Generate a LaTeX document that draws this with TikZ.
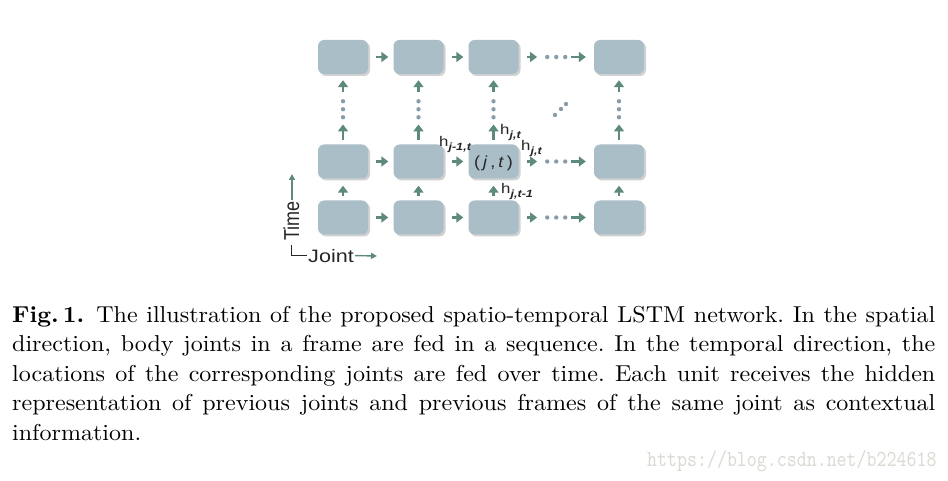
\documentclass[tikz,border=0pt]{standalone}
\usepackage{fontspec}
\usepackage{graphicx}
\usetikzlibrary{arrows.meta,calc,shadows}
\newfontfamily\diagfont{Liberation Sans}

\definecolor{unitfill}{RGB}{169,190,199}
\definecolor{linkcol}{RGB}{94,138,126}
\definecolor{dotcol}{RGB}{135,158,170}
\definecolor{markcol}{RGB}{218,218,212}

\newcommand\wide[2][1.2]{\scalebox{#1}[1]{#2}}
\newcommand\hsub[1]{h\raisebox{-3.5pt}{\fontsize{10.5}{10.5}\selectfont\bfseries\itshape #1}}

\tikzset{
    unit/.style={rectangle, rounded corners=6pt, fill=unitfill, minimum width=50pt,
        minimum height=34pt, inner sep=0pt,
        drop shadow={shadow xshift=2pt, shadow yshift=-2pt, fill=black, opacity=0.18}},
    link/.style={linkcol, line width=2.4pt, -{Triangle[length=7pt,width=10pt]}},
    hgap/.style={minimum width=22pt, minimum height=4pt, inner sep=0pt},
    vgap/.style={minimum width=4pt, minimum height=22pt, inner sep=0pt},
    lbl/.style={font=\diagfont\fontsize{14}{14}\selectfont, text=black!85, inner sep=0pt},
    axislbl/.style={font=\diagfont\fontsize{18}{18}\selectfont, text=black!85, inner sep=1pt},
    axisarrow/.style={linkcol, line width=1.4pt, -{Triangle[length=6pt,width=6pt]}},
}

\begin{document}
\begin{tikzpicture}[x=1pt,y=1pt]
    \useasboundingbox (0,0) rectangle (948,480);

    % The units
    \foreach \col/\x in {1/343,2/418.5,3/493.5,4/619}
    {
        \foreach \rw/\y in {1/262.5,2/318.5,3/423}
            \node[unit] (u\col\rw) at (\x,\y) {};
    }
    \node[lbl, font=\diagfont\fontsize{16}{16}\selectfont] (jt) at ($(u32)+(0,-2)$) {\wide[1.12]{(\,\textit{j}\,,\,\textit{t}\,)}};

    % Joint direction
    \foreach \rw in {1,2,3}
    {
        \draw[link, shorten <=8pt, shorten >=5pt] (u1\rw) -- (u2\rw);
        \draw[link, shorten <=8pt, shorten >=5pt] (u2\rw) -- (u3\rw);
        \node[hgap] (g\rw) at ($(u3\rw)!0.5!(u4\rw)$) {};
        \draw[link, shorten <=8.5pt, shorten >=8pt] (u3\rw) -- (g\rw);
        \draw[link, shorten <=4pt, shorten >=8pt] (g\rw) -- (u4\rw);
        \foreach \d in {-9,0,9}
            \fill[dotcol] ($(g\rw)+(\d,0)$) circle (2.2pt);
    }

    % Time direction
    \foreach \col in {1,...,4}
    {
        \draw[link, shorten <=4pt, shorten >=7pt] (u\col1) -- (u\col2);
        \node[vgap] (v\col) at ($(u\col2.north)!0.5!(u\col3.south)$) {};
        \draw[link, shorten <=4.5pt, shorten >=4pt] (u\col2) -- (v\col);
        \draw[link, shorten <=6pt, shorten >=6pt] (v\col) -- (u\col3);
        \foreach \d in {-8,0,8}
            \fill[dotcol] ($(v\col)+(0,\d)$) circle (2.2pt);
    }
    \foreach \p in {(555,365),(561,371),(566,376)}
        \fill[dotcol] \p circle (2.2pt);

    % Hidden states
    \node[lbl, anchor=base west] (hLeft) at (439,333) {\wide{\hsub{j-1,t}}};
    \node[lbl, anchor=base west] (hUp) at (500,345) {\wide{\hsub{j,t}}};
    \node[lbl, anchor=base west] (hRight) at (521,329) {\wide{\hsub{j,t}}};
    \node[lbl, anchor=base west] (hDown) at (501,286) {\wide{\hsub{j,t-1}}};

    % Axes legend
    \node[axislbl, anchor=base west, rotate=90] (time) at (299,238) {\scalebox{1}[1.2]{Time}};
    \node[axislbl, anchor=base west] (joint) at (307,218) {\wide[1.2]{Joint}};
    \coordinate (tEnd) at (292,306);
    \coordinate (jEnd) at (377,224);
    \draw[axisarrow] (tEnd |- time.east) -- (tEnd);
    \draw[axisarrow] (joint.east) -- (jEnd);
    \draw[black!85, line width=1pt, shorten <=3pt] (time.west) |- (joint.west);

    % Caption
    \node[anchor=base west, inner sep=0pt] (caption) at (12,158) {\scalebox{2.404}[2.3]{\parbox[t]{384pt}{\fontsize{10}{12.83}\selectfont\frenchspacing\hyphenpenalty=10000
        \textbf{Fig.\,1.}\enspace The illustration of the proposed spatio-temporal LSTM network. In the spatial\linebreak
        direction, body joints in a frame are fed in a sequence. In the temporal direction, the\linebreak
        locations of the corresponding joints are fed over time. Each unit receives the hidden\linebreak
        representation of previous joints and previous frames of the same joint as contextual\linebreak
        information.}}};

    % Watermark
    \node[anchor=base west, inner sep=0pt, text=markcol] (mark) at (647,14) {\scalebox{1.9}[2.29]{\ttfamily\fontsize{10}{10}\selectfont https://blog.csdn.net/b224618}};
\end{tikzpicture}
\end{document}
